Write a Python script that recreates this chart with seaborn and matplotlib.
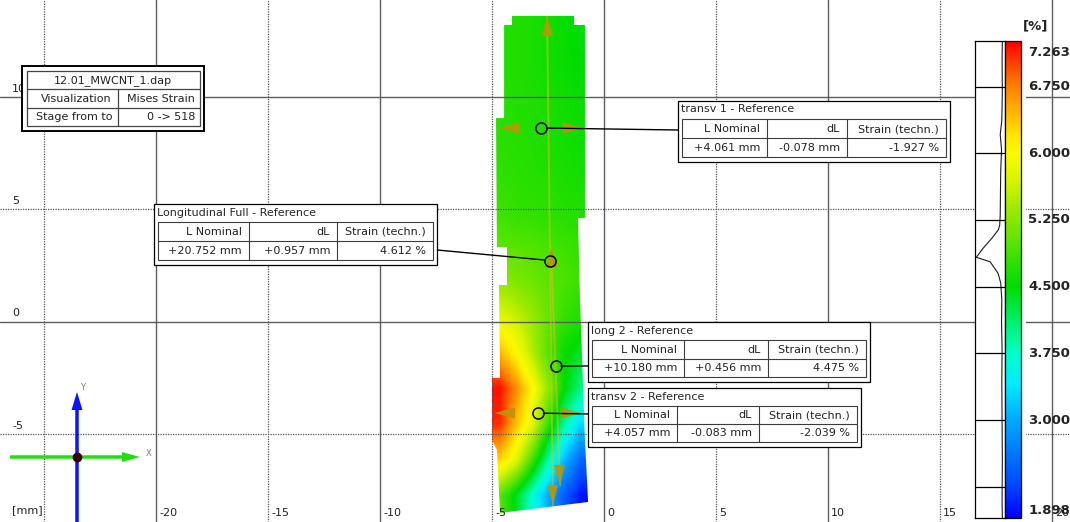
import numpy as np
import matplotlib
matplotlib.use("Agg")
import matplotlib.pyplot as plt
from matplotlib.colors import LinearSegmentedColormap, Normalize
from matplotlib.cm import ScalarMappable
from matplotlib.patches import Polygon, Rectangle
import seaborn as sns

# ---------------- data ----------------

# Mises strain [%] on a coarse grid over the specimen (rows top -> bottom, cols left -> right)
field_x = [-5.0, -0.7]     # mm
field_y = [-8.5, 13.6]     # mm
strain_grid = [
    [4.70, 4.70, 4.65, 4.60, 4.55, 4.45],
    [4.70, 4.70, 4.65, 4.60, 4.55, 4.50],
    [4.72, 4.70, 4.68, 4.65, 4.60, 4.55],
    [4.75, 4.72, 4.70, 4.65, 4.62, 4.58],
    [4.78, 4.75, 4.72, 4.70, 4.65, 4.62],
    [4.85, 4.80, 4.78, 4.75, 4.72, 4.70],
    [5.00, 4.98, 4.95, 4.90, 4.85, 4.80],
    [5.30, 5.20, 5.10, 5.00, 4.92, 4.85],
    [5.80, 5.60, 5.35, 5.05, 4.80, 4.70],
    [6.45, 6.05, 5.50, 4.95, 4.55, 4.35],
    [7.20, 6.70, 6.05, 5.30, 4.50, 4.00],
    [7.10, 6.40, 5.80, 4.80, 3.90, 3.30],
    [6.30, 5.80, 4.90, 3.90, 3.10, 2.50],
    [5.00, 4.40, 3.70, 3.00, 2.40, 2.00],
]

# specimen outline [mm]
outline_x = [-4.11, -1.34, -1.34, -0.85, -0.85, -1.16, -1.07, -0.85, -0.71, -4.64, -4.78,
             -5.00, -5.00, -4.64, -4.69, -4.33, -4.33, -4.78, -4.82, -4.46, -4.46, -4.11]
outline_y = [13.58, 13.58, 13.18, 13.18, 4.60, 4.60, 0.96, -5.27, -8.02, -8.51, -5.71,
             -5.27, -2.51, -2.51, 1.62, 1.62, 3.31, 3.31, 9.04, 9.04, 13.18, 13.18]

# extensometers (end points in mm)
gauge_names = ["Longitudinal Full", "long 2", "transv 1", "transv 2"]
gauge_x0 = [-2.54, -2.37, -4.69, -4.87]
gauge_y0 = [13.58, 3.31, 8.60, -4.07]
gauge_x1 = [-2.28, -1.96, -0.94, -1.03]
gauge_y1 = [-8.16, -7.27, 8.60, -4.07]
l_nominal = ["+20.752 mm", "+10.180 mm", "+4.061 mm", "+4.057 mm"]
d_l = ["+0.957 mm", "+0.456 mm", "-0.078 mm", "-0.083 mm"]
strain_techn = ["4.612 %", "4.475 %", "-1.927 %", "-2.039 %"]

project_name = "12.01_MWCNT_1.dap"
visualization = "Mises Strain"
stage_range = "0 -> 518"

# colour scale
cbar_min, cbar_max = 1.898, 7.263
cbar_lines = [6.75, 6.0, 5.25, 4.5, 3.75, 3.0, 2.25]
cbar_label_vals = [7.263, 6.75, 6.0, 5.25, 4.5, 3.75, 3.0, 1.898]
cbar_label_txt = ["7.263", "6.750", "6.000", "5.250", "4.500", "3.750", "3.000", "1.898"]
cmap_vals = [1.898, 2.25, 3.0, 3.4, 3.75, 4.1, 4.5, 4.8, 5.1, 5.4, 5.7, 6.0, 6.2, 6.75, 7.0, 7.263]
cmap_cols = ["#0000ff", "#0046ff", "#00aaff", "#00ebff", "#00ffc8", "#00f06e", "#00dc00",
             "#32e100", "#6ee600", "#a0eb00", "#d7f500", "#fafa00", "#ffe600", "#ff8200",
             "#ff4600", "#ff0000"]

# strain histogram next to the colour bar (relative share)
hist_strain = [7.263, 7.05, 6.71, 6.37, 6.21, 6.04, 5.81, 5.59, 5.31, 5.19, 5.14, 5.05,
               4.93, 4.83, 4.78, 4.65, 4.54, 4.35, 4.10, 3.80, 3.45, 3.00, 2.55, 2.10, 1.898]
hist_share = [0.02, 0.03, 0.02, 0.04, 0.10, 0.05, 0.08, 0.09, 0.10, 0.12, 0.17, 0.40,
              0.75, 1.00, 0.48, 0.18, 0.08, 0.04, 0.05, 0.03, 0.04, 0.03, 0.02, 0.03, 0.02]

# axes grid [mm]
grid_solid_x = [-20, -10, 0, 10, 20]
grid_dot_x = [-25, -15, -5, 5, 15]
grid_solid_y = [10, 0]
grid_dot_y = [5, -5]
xtick_vals = [-20, -15, -10, -5, 0, 5, 10, 15, 20]
ytick_vals = [10, 5, 0, -5]

# ---------------- drawing ----------------
sns.set_style("white")
plt.rcParams["font.family"] = "DejaVu Sans"

W, H = 1070, 522
PX_MM_X, PX_MM_Y = 22.4, 22.5
X0_PX, Y0_PX = 604, 321.5

cmap = LinearSegmentedColormap.from_list(
    "strain", [((v - cbar_min) / (cbar_max - cbar_min), c) for v, c in zip(cmap_vals, cmap_cols)])
norm = Normalize(cbar_min, cbar_max)

fig = plt.figure(figsize=(W / 100, H / 100), dpi=100)
ax = fig.add_axes([0, 0, 1, 1])

img = ax.imshow(np.array(strain_grid), extent=[field_x[0], field_x[1], field_y[0], field_y[1]],
                origin="upper", cmap=cmap, norm=norm, interpolation="bilinear",
                interpolation_stage="data", aspect="auto", zorder=1)
outline = Polygon(np.column_stack([outline_x, outline_y]), closed=True,
                  facecolor="none", edgecolor="none")
ax.add_patch(outline)
img.set_clip_path(outline)

ax.set_xlim(-X0_PX / PX_MM_X, (W - X0_PX) / PX_MM_X)
ax.set_ylim(-(H - Y0_PX) / PX_MM_Y, Y0_PX / PX_MM_Y)
ax.axis("off")

for v in grid_solid_x:
    ax.axvline(v, color="#5c5c5c", lw=1.0, zorder=2)
for v in grid_dot_x:
    ax.axvline(v, color="#555555", lw=0.9, ls=(0, (1, 1)), zorder=2)
for v in grid_solid_y:
    ax.axhline(v, color="#5c5c5c", lw=1.0, zorder=2)
for v in grid_dot_y:
    ax.axhline(v, color="#555555", lw=0.9, ls=(0, (1, 1)), zorder=2)

for v in ytick_vals:
    ax.annotate(str(v), xy=(0, v), xycoords=ax.get_yaxis_transform(), xytext=(12, 8),
                textcoords="offset pixels", ha="left", va="center", fontsize=8, color="#222222")
for v in xtick_vals:
    ax.annotate(str(v), xy=(v, 0), xycoords=ax.get_xaxis_transform(), xytext=(3, 9),
                textcoords="offset pixels", ha="left", va="center", fontsize=8, color="#222222")

# extensometers
gold = "#b8960a"
head_len, head_w = 0.9, 0.5
mids = []
for name, x0, y0, x1, y1 in zip(gauge_names, gauge_x0, gauge_y0, gauge_x1, gauge_y1):
    dx, dy = x1 - x0, y1 - y0
    length = np.hypot(dx, dy)
    ux, uy = dx / length, dy / length
    if name.lower().startswith("long"):
        ax.plot([x0, x1], [y0, y1], color="#d8c020", lw=1.3, alpha=0.55, zorder=3)
    ax.arrow(x1 - ux * head_len, y1 - uy * head_len, ux * head_len, uy * head_len, width=0.001,
             head_width=head_w, head_length=head_len, length_includes_head=True,
             color=gold, alpha=0.9, lw=0, zorder=4)
    ax.arrow(x0 + ux * head_len, y0 + uy * head_len, -ux * head_len, -uy * head_len, width=0.001,
             head_width=head_w, head_length=head_len, length_includes_head=True,
             color=gold, alpha=0.9, lw=0, zorder=4)
    mx, my = (x0 + x1) / 2, (y0 + y1) / 2
    ax.plot(mx, my, marker="o", ms=8, mfc="none", mec="black", mew=1.1, zorder=6)
    mids.append((mx, my))

# overlay in pixel coordinates for the labels / boxes
ov = fig.add_axes([0, 0, 1, 1])
ov.set_xlim(0, W)
ov.set_ylim(H, 0)
ov.axis("off")


def to_px(x, y):
    return ov.transData.inverted().transform(ax.transData.transform((x, y)))


box_specs = {
    "Longitudinal Full": ((154, 204, 437, 265), (249, 337), (437, 250)),
    "long 2": ((588, 322, 870, 382), (684, 768), (588, 366)),
    "transv 1": ((678, 101, 950, 162), (767, 847), (678, 130)),
    "transv 2": ((588, 388, 861, 447), (677, 759), (588, 414)),
}

for i, name in enumerate(gauge_names):
    (bx0, by0, bx1, by1), cols, anchor = box_specs[name]
    cx, cy = to_px(*mids[i])
    vx, vy = anchor[0] - cx, anchor[1] - cy
    d = np.hypot(vx, vy)
    ov.plot([cx + vx / d * 5.5, anchor[0]], [cy + vy / d * 5.5, anchor[1]],
            color="black", lw=1.0, zorder=3)

    ov.add_patch(Rectangle((bx0, by0), bx1 - bx0, by1 - by0, facecolor="white",
                           edgecolor="black", lw=0.9, zorder=5))
    ov.text(bx0 + 3, by0 + 8.5, name + " - Reference", ha="left", va="center",
            fontsize=8, color="#262626", zorder=6)
    tx0, ty0, tx1, ty1 = bx0 + 4, by0 + 18, bx1 - 4, by1 - 5
    tm = (ty0 + ty1) / 2
    ov.add_patch(Rectangle((tx0, ty0), tx1 - tx0, ty1 - ty0, facecolor="none",
                           edgecolor="#3c3c3c", lw=0.8, zorder=6))
    ov.plot([tx0, tx1], [tm, tm], color="#3c3c3c", lw=0.8, zorder=6)
    for c in cols:
        ov.plot([c, c], [ty0, ty1], color="#3c3c3c", lw=0.8, zorder=6)
    rights = [cols[0], cols[1], tx1]
    rows = [["L Nominal", "dL", "Strain (techn.)"], [l_nominal[i], d_l[i], strain_techn[i]]]
    for r, row in enumerate(rows):
        yc = (ty0 + tm) / 2 if r == 0 else (tm + ty1) / 2
        for j, s in enumerate(row):
            ov.text(rights[j] - 7, yc + 0.5, s, ha="right", va="center", fontsize=8,
                    color="#222222", zorder=7)

# project info box
ov.add_patch(Rectangle((22, 66), 182, 65, facecolor="white", edgecolor="black", lw=1.4, zorder=5))
ov.add_patch(Rectangle((27, 71), 173, 55, facecolor="none", edgecolor="#444444", lw=0.9, zorder=6))
ov.plot([27, 200], [89, 89], color="#444444", lw=0.9, zorder=6)
ov.plot([27, 200], [108, 108], color="#444444", lw=0.9, zorder=6)
ov.plot([118, 118], [89, 126], color="#444444", lw=0.9, zorder=6)
ov.text(113, 80.5, project_name, ha="center", va="center", fontsize=8, color="#222222", zorder=7)
ov.text(112, 99, "Visualization", ha="right", va="center", fontsize=8, color="#222222", zorder=7)
ov.text(195, 99, visualization, ha="right", va="center", fontsize=8, color="#222222", zorder=7)
ov.text(112, 117.5, "Stage from to", ha="right", va="center", fontsize=8, color="#222222", zorder=7)
ov.text(195, 117.5, stage_range, ha="right", va="center", fontsize=8, color="#222222", zorder=7)

ov.text(12, 510, "[mm]", ha="left", va="center", fontsize=8, color="#222222")

# coordinate triad
ov.arrow(77, 522, 0, -130, width=3.5, head_width=11, head_length=18,
         length_includes_head=True, color="#0a14ff", lw=0, zorder=3)
ov.arrow(10, 457, 130, 0, width=3.5, head_width=10, head_length=18,
         length_includes_head=True, color="#22dd11", lw=0, zorder=3)
ov.plot(77, 457, "o", ms=6, color="#3a0000", zorder=4)
ov.text(80, 388, "Y", fontsize=6, color="#777777", ha="left", va="center")
ov.text(146, 454, "X", fontsize=6, color="#777777", ha="left", va="center")

# white panel behind the colour bar
ov.add_patch(Rectangle((975, 41), 51, 477, facecolor="white", edgecolor="none", zorder=1))
ov.text(1036, 26, "[%]", ha="center", va="center", fontsize=9.5, fontweight="bold", color="#222222")

# histogram strip
hax = fig.add_axes([975 / W, 4 / H, 30 / W, 477 / H])
sns.lineplot(x=hist_share, y=hist_strain, orient="y", sort=False, estimator=None,
             ax=hax, color="#1a1a1a", linewidth=0.8)
for v in cbar_lines:
    hax.axhline(v, color="black", lw=0.9)
hax.set_xlim(1.05, -0.08)
hax.set_ylim(cbar_min, cbar_max)
hax.set(xlabel="", ylabel="", xticks=[], yticks=[])
for s in hax.spines.values():
    s.set_color("black")
    s.set_linewidth(0.9)

# colour bar
cax = fig.add_axes([1005 / W, 4 / H, 16 / W, 477 / H])
cb = fig.colorbar(ScalarMappable(norm=norm, cmap=cmap), cax=cax)
cb.set_ticks([])
cb.outline.set_edgecolor("black")
cb.outline.set_linewidth(0.9)
for v, s in zip(cbar_label_vals, cbar_label_txt):
    dy = 0
    if v == cbar_max:
        dy = -11
    elif v == cbar_min:
        dy = 8
    cax.annotate(s, xy=(1.45, v), xycoords=cax.get_yaxis_transform(), xytext=(0, dy),
                 textcoords="offset pixels", ha="left", va="center", fontsize=9.5,
                 fontweight="bold", color="#222222", annotation_clip=False)

fig.savefig("out.png", dpi=100)
